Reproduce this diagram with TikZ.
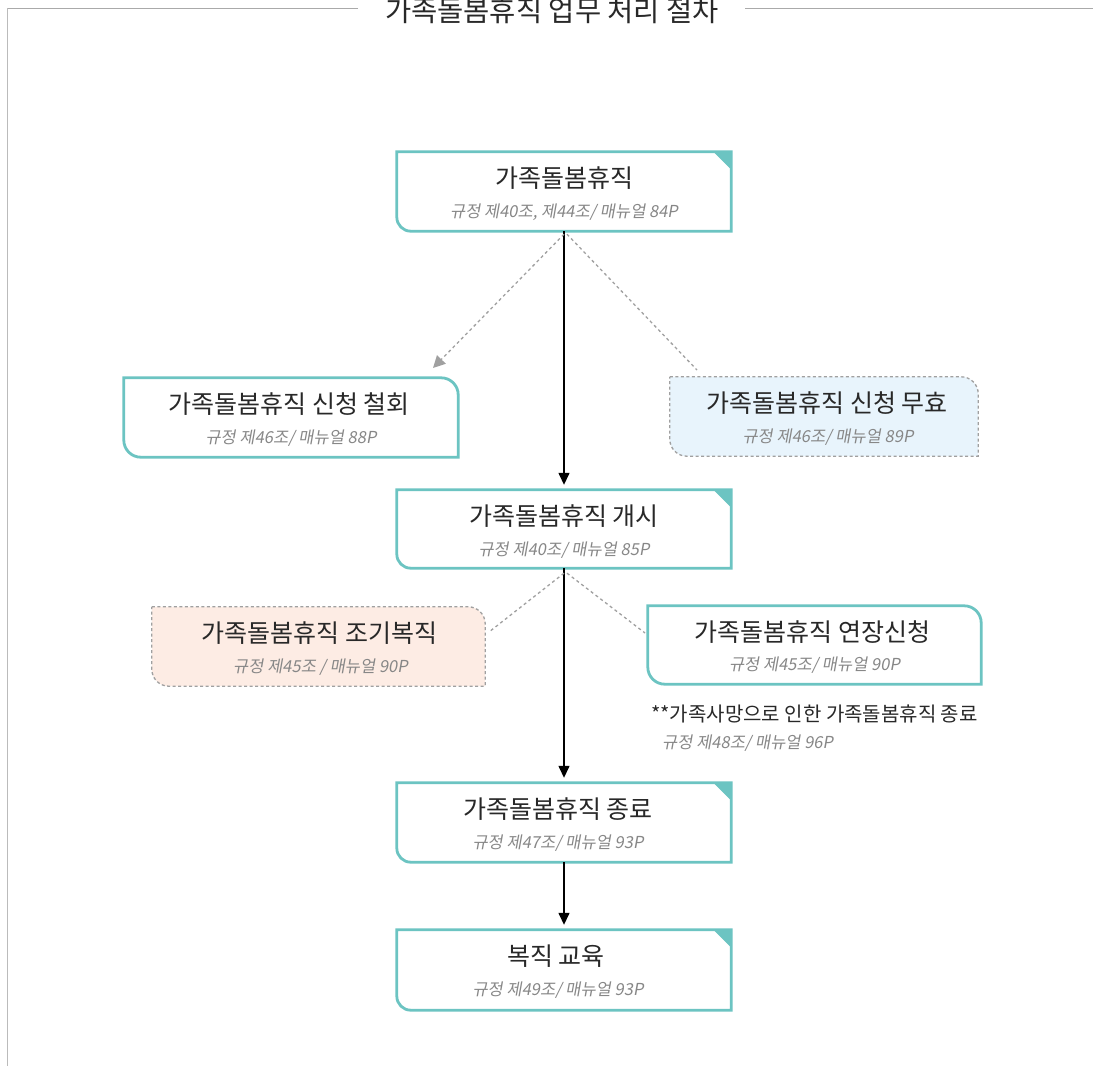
\documentclass[tikz,border=0pt]{standalone}
\usepackage{fontspec}
\setmainfont{Noto Sans CJK KR}
\newfontfamily\subf[FakeSlant=0.18]{Noto Sans CJK KR}
\usetikzlibrary{calc,arrows.meta}
\definecolor{tealc}{RGB}{108,196,194}
\definecolor{txtc}{RGB}{40,40,40}
\definecolor{subc}{RGB}{135,135,135}
\definecolor{dashc}{RGB}{160,160,160}
\definecolor{blueb}{RGB}{232,244,252}
\definecolor{pinkb}{RGB}{253,236,228}
\definecolor{framec}{RGB}{170,170,170}
\tikzset{
  boxnode/.style={rectangle, inner sep=0pt, minimum width=334pt, minimum height=79pt},
  tealline/.style={draw=tealc, line width=2.8pt},
  grayline/.style={draw=dashc, line width=1.3pt, dash pattern=on 3pt off 2.5pt},
  ttl/.style={anchor=base, inner sep=0pt, text=txtc, font=\fontsize{25pt}{28pt}\selectfont},
  sub/.style={anchor=base, inner sep=0pt, text=subc, font=\subf\fontsize{16.5pt}{19pt}\selectfont},
  solidarrow/.style={draw=black, line width=1.4pt, -{Triangle[length=12pt,width=11pt]}, shorten >=5pt},
  dasharrow/.style={draw=dashc, line width=1.3pt, dash pattern=on 3pt off 3pt},
  frameline/.style={draw=framec, line width=1pt}
}
\newcommand{\mkDog}[1]{%
  \draw[tealline] (#1.north west) -- (#1.north east) -- (#1.south east) -- ($(#1.south west)+(14,0)$) arc[start angle=270,end angle=180,radius=14pt] -- cycle;
  \filldraw[tealc, line width=1pt] ($(#1.north east)+(-17,0)$) -- (#1.north east) -- ($(#1.north east)+(0,17)$) -- cycle;}
\newcommand{\mkRound}[2]{%
  \path[#2] (#1.north west) -- ($(#1.north east)+(-17,0)$) arc[start angle=90,end angle=0,radius=17pt] -- (#1.south east) -- ($(#1.south west)+(17,0)$) arc[start angle=270,end angle=180,radius=17pt] -- cycle;}
\begin{document}
\begin{tikzpicture}[x=1pt,y=-1pt]
\useasboundingbox (0,0) rectangle (1093,1066);
\fill[white] (0,0) rectangle (1093,1066);
% frame
\coordinate (fa) at (8,8);
\coordinate (fb) at (358,8);
\coordinate (fc) at (745,8);
\coordinate (fd) at (1093,8);
\coordinate (fe) at (7.5,1066);
\draw[frameline] (fb) -- (fa);
\draw[frameline] (fc) -- (fd);
\draw[draw=framec!80, line width=1.6pt] (7.5,8) -- (fe);
\node[anchor=base, inner sep=0pt, text=txtc, font=\fontsize{28.5pt}{32pt}\selectfont] (title) at (552,21) {가족돌봄휴직 업무 처리 절차};

% boxes
\node[boxnode] (n1) at (564,191.5) {};
\node[boxnode] (n2) at (291,417.5) {};
\node[boxnode, minimum width=308pt] (n3) at (824,416.5) {};
\node[boxnode, minimum height=78pt] (n4) at (564,529) {};
\node[boxnode, minimum width=333pt] (n5) at (318.5,646.5) {};
\node[boxnode, minimum width=333pt, minimum height=78pt] (n6) at (814.5,645) {};
\node[boxnode] (n8) at (564,822.5) {};
\node[boxnode, minimum height=80pt] (n9) at (564,970) {};

\mkDog{n1}
\mkDog{n4}
\mkDog{n8}
\mkDog{n9}
\mkRound{n2}{tealline}
\mkRound{n6}{tealline}
\mkRound{n3}{fill=blueb, grayline}
\mkRound{n5}{fill=pinkb, grayline}

% texts
\node[ttl] (n1a) at ($(n1.north)+(0,36)$) {가족돌봄휴직};
\node[sub] (n1b) at ($(n1.north)+(0,65.5)$) {규정 제40조, 제44조/ 매뉴얼 84P};
\node[ttl] (n2a) at ($(n2.north)+(-2,36)$) {가족돌봄휴직 신청 철회};
\node[sub] (n2b) at ($(n2.north)+(0,65.5)$) {규정 제46조/ 매뉴얼 88P};
\node[ttl] (n3a) at ($(n3.north)+(3,36)$) {가족돌봄휴직 신청 무효};
\node[sub] (n3b) at ($(n3.north)+(4,65.5)$) {규정 제46조/ 매뉴얼 89P};
\node[ttl] (n4a) at ($(n4.north)+(0,36)$) {가족돌봄휴직 개시};
\node[sub] (n4b) at ($(n4.north)+(0,65.5)$) {규정 제40조/ 매뉴얼 85P};
\node[ttl] (n5a) at ($(n5.north)+(1,36)$) {가족돌봄휴직 조기복직};
\node[sub] (n5b) at ($(n5.north)+(2,65.5)$) {규정 제45조 / 매뉴얼 90P};
\node[ttl] (n6a) at ($(n6.north)+(-2,36)$) {가족돌봄휴직 연장신청};
\node[sub] (n6b) at ($(n6.north)+(0,64.5)$) {규정 제45조/ 매뉴얼 90P};
\node[ttl] (n8a) at ($(n8.north)+(-6,36)$) {가족돌봄휴직 종료};
\node[sub] (n8b) at ($(n8.north)+(-6,65.5)$) {규정 제47조/ 매뉴얼 93P};
\node[ttl] (n9a) at ($(n9.north)+(-8,36)$) {복직 교육};
\node[sub] (n9b) at ($(n9.north)+(-6,65.5)$) {규정 제49조/ 매뉴얼 93P};

\node[anchor=base west, inner sep=0pt, text=txtc, font=\fontsize{20pt}{23pt}\selectfont] (note) at (651,721.5) {**가족사망으로 인한 가족돌봄휴직 종료};
\node[sub, anchor=base west] (noteb) at (662,748) {규정 제48조/ 매뉴얼 96P};

% connectors
\draw[solidarrow] (n1.south) -- (n4.north);
\draw[solidarrow] (n4.south) -- (n8.north);
\draw[solidarrow] (n8.south) -- (n9.north);

\coordinate (d1) at (433,368);
\coordinate (d2) at (697,370);
\coordinate (d3) at (489,632);
\coordinate (d4) at (645,633);
\draw[dasharrow, -{Triangle[length=12pt,width=12pt]}] ($(n1.south)+(0,3)$) -- (d1);
\draw[dasharrow] ($(n1.south)+(3,3)$) -- (d2);
\draw[dasharrow] ($(n4.south)+(0,5)$) -- (d3);
\draw[dasharrow] ($(n4.south)+(3,5)$) -- (d4);
\end{tikzpicture}
\end{document}
